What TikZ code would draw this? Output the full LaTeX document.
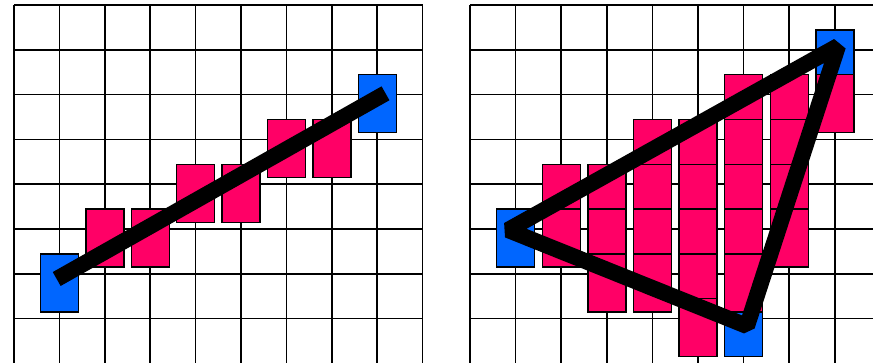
\documentclass[tikz,border=0pt]{standalone}
\definecolor{pixblue}{RGB}{0,102,255}
\definecolor{pixpink}{RGB}{255,0,102}
\tikzset{
  gridline/.style={line width=1.6pt, draw=black},
  cellbox/.style={line width=1.4pt, draw=black},
  bluecell/.style={cellbox, fill=pixblue},
  pinkcell/.style={cellbox, fill=pixpink},
  thickline/.style={line width=16pt, draw=black, line cap=butt, line join=bevel}
}
\begin{document}
\begin{tikzpicture}[x=1pt,y=-1pt]
\useasboundingbox (0,0) rectangle (873,362);
\clip (0,0) rectangle (873,362);
\fill[white] (0,0) rectangle (873,362);
% left grid
\foreach \i in {0,...,9} { \draw[gridline] ({14+45.4*\i},5) -- ({14+45.4*\i},370); }
\foreach \j in {0,...,7} { \draw[gridline] (14,{5+44.8*\j}) -- (422.6,{5+44.8*\j}); }
% right grid
\foreach \i in {0,...,9} { \draw[gridline] ({470+45.6*\i},5) -- ({470+45.6*\i},370); }
\foreach \j in {0,...,7} { \draw[gridline] (470,{5+44.8*\j}) -- (880,{5+44.8*\j}); }
% left cells
\foreach \i/\j/\s in {1/6/bluecell, 8/2/bluecell, 2/5/pinkcell, 3/5/pinkcell, 4/4/pinkcell, 5/4/pinkcell, 6/3/pinkcell, 7/3/pinkcell} {
  \path[\s] ({14+45.4*\i-19},{14+44.8*\j-29}) rectangle ({14+45.4*\i+19},{14+44.8*\j+29});
}
% right cells
\foreach \i/\j/\s in {1/5/bluecell, 8/1/bluecell, 6/7/bluecell,
  2/4/pinkcell, 2/5/pinkcell,
  3/4/pinkcell, 3/5/pinkcell, 3/6/pinkcell,
  4/3/pinkcell, 4/4/pinkcell, 4/5/pinkcell, 4/6/pinkcell,
  5/3/pinkcell, 5/4/pinkcell, 5/5/pinkcell, 5/6/pinkcell, 5/7/pinkcell,
  6/2/pinkcell, 6/3/pinkcell, 6/4/pinkcell, 6/5/pinkcell, 6/6/pinkcell,
  7/2/pinkcell, 7/3/pinkcell, 7/4/pinkcell, 7/5/pinkcell,
  8/2/pinkcell} {
  \path[\s] ({470+45.6*\i-19},{14+44.8*\j-29}) rectangle ({470+45.6*\i+19},{14+44.8*\j+29});
}
% line
\coordinate (la) at (56.7,279);
\coordinate (lb) at (385.5,93.3);
\draw[thickline] (la) -- (lb);
% triangle
\coordinate (tp) at (508,230);
\coordinate (tq) at (838,46);
\coordinate (tr) at (747,326);
\draw[thickline] (tp) -- (tq) -- (tr) -- cycle;
\end{tikzpicture}
\end{document}
